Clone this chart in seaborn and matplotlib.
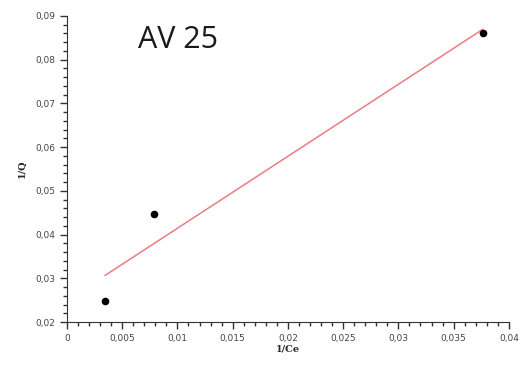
import matplotlib
matplotlib.use("Agg")
import matplotlib.pyplot as plt
from matplotlib.ticker import MultipleLocator, FuncFormatter
import seaborn as sns
import pandas as pd

# data
inv_ce = [0.00344, 0.00787, 0.03765]
inv_q = [0.0248, 0.0447, 0.0861]
title = "AV 25"

df = pd.DataFrame({"1/Ce": inv_ce, "1/Q": inv_q})

sns.set_style("ticks")
plt.rcParams["font.family"] = ["DejaVu Sans"]

fig = plt.figure(figsize=(5.23, 3.72), dpi=100)
ax = fig.add_axes([0.128, 0.134, 0.845, 0.823])

sns.regplot(data=df, x="1/Ce", y="1/Q", ax=ax, ci=None,
            scatter_kws={"color": "black", "s": 20, "edgecolor": "black",
                         "alpha": 1, "zorder": 3},
            line_kws={"color": "#ea7c85", "lw": 1.1})

ax.set_xlim(0, 0.04)
ax.set_ylim(0.02, 0.09)
ax.xaxis.set_major_locator(MultipleLocator(0.005))
ax.xaxis.set_minor_locator(MultipleLocator(0.001))
ax.yaxis.set_major_locator(MultipleLocator(0.01))
ax.yaxis.set_minor_locator(MultipleLocator(0.002))

def comma(v, pos):
    s = ("%.3f" % v).rstrip("0").rstrip(".")
    return s.replace(".", ",")

ax.xaxis.set_major_formatter(FuncFormatter(comma))
ax.yaxis.set_major_formatter(FuncFormatter(comma))
ax.tick_params(which="major", length=5, width=1, labelsize=6.5, colors="#333333", labelcolor="#444444")
ax.tick_params(which="minor", length=3, width=1, colors="#333333")
for s in ["top", "right"]:
    ax.spines[s].set_visible(False)
for s in ["left", "bottom"]:
    ax.spines[s].set_color("#333333")

ax.set_xlabel("1/Ce", fontsize=7, fontweight="bold", family="DejaVu Serif", labelpad=1)
ax.set_ylabel("1/Q", fontsize=7, fontweight="bold", family="DejaVu Serif", labelpad=6)

fig.text(0.263, 0.870, title, fontsize=22, family="Open Sans", color="#1a1a1a", va="baseline")

fig.savefig("out.png", dpi=100)
